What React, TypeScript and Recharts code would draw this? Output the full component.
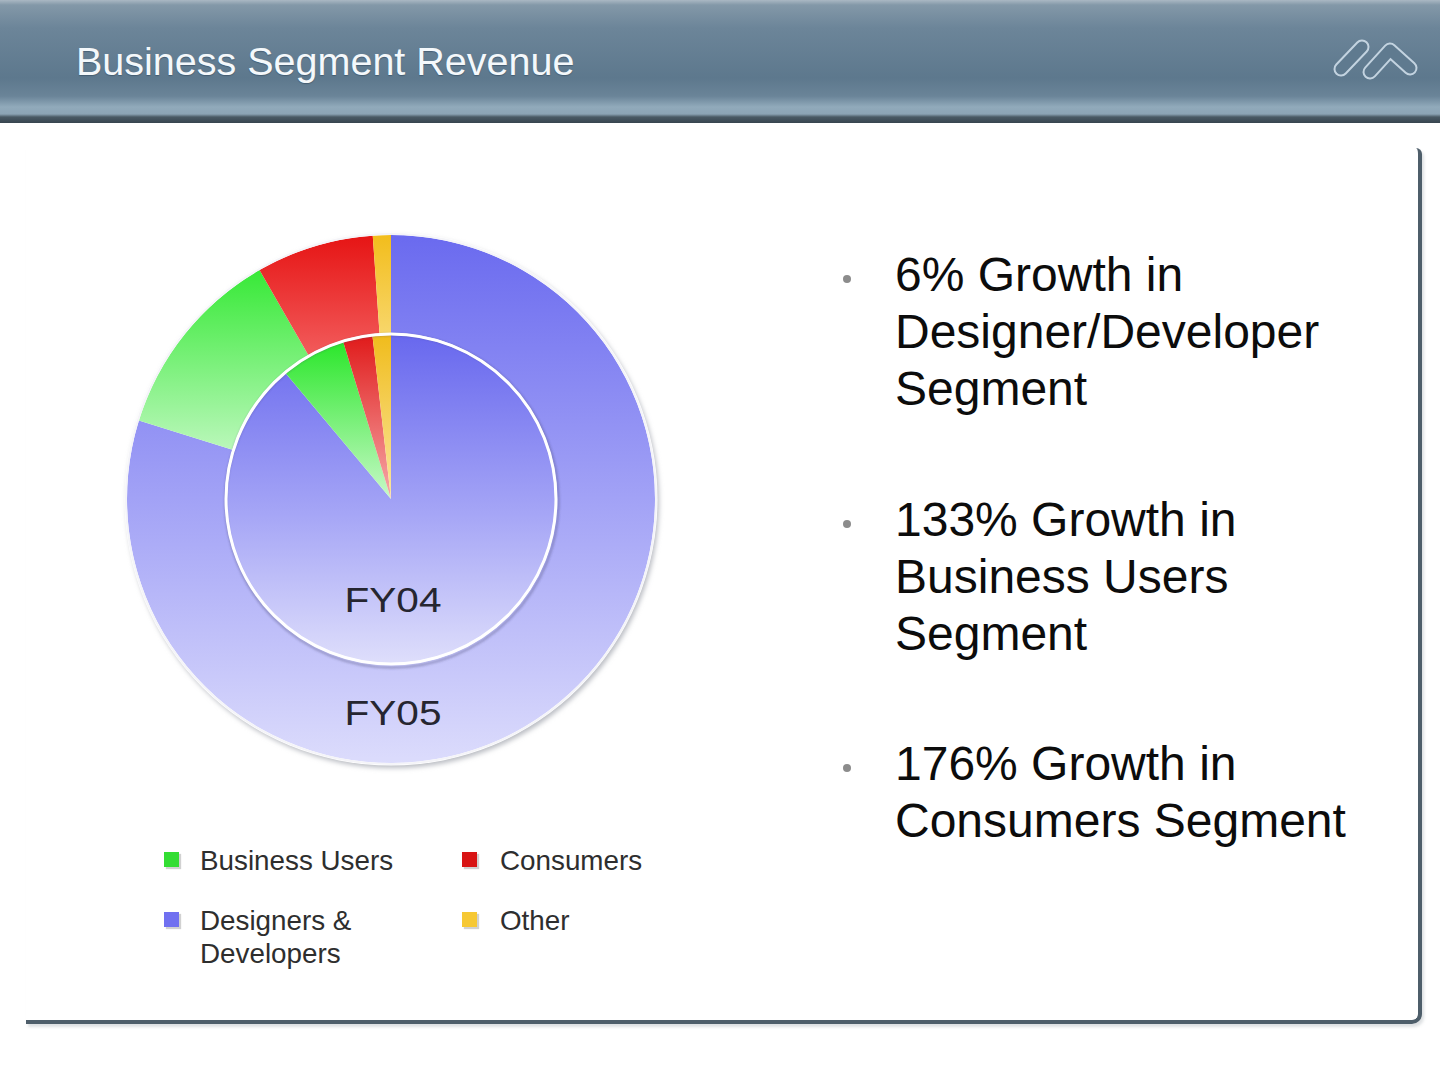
import React from 'react';
import { PieChart, Pie, Cell } from 'recharts';

const segments = ['Designers & Developers', 'Business Users', 'Consumers', 'Other'];
const fy04Share = [88.9, 6.4, 2.9, 1.8];
const fy05Share = [79.8, 11.9, 7.2, 1.1];

const legendOrder = ['Business Users', 'Consumers', 'Designers & Developers', 'Other'];

const growthNotes = [
  ['6% Growth in', 'Designer/Developer', 'Segment'],
  ['133% Growth in', 'Business Users', 'Segment'],
  ['176% Growth in', 'Consumers Segment'],
];

const ringLabels = ['FY04', 'FY05'];

const swatch: Record<string, string> = {
  'Designers & Developers': '#7070f0',
  'Business Users': '#33dd33',
  Consumers: '#d81414',
  Other: '#f6c834',
};
const gradKey: Record<string, string> = {
  'Designers & Developers': 'blue',
  'Business Users': 'green',
  Consumers: 'red',
  Other: 'yellow',
};

const FONT = '"Liberation Sans", Arial, sans-serif';
const SIZE = 600;
const C = SIZE / 2;
const INNER_R = 164;
const RING_IN = 166;
const RING_OUT = 264;

const fy04Data = segments.map((name, i) => ({ name, value: fy04Share[i] }));
const fy05Data = segments.map((name, i) => ({ name, value: fy05Share[i] }));

const outerStops: Record<string, [number, string][]> = {
  blue: [[0, '#6a6aef'], [0.5, '#a2a2f6'], [1, '#dcdcfc']],
  green: [[0, '#1ee61e'], [0.42, '#bff8bf']],
  red: [[0, '#e61414'], [0.23, '#f25c5c']],
  yellow: [[0, '#f2bd1c'], [0.2, '#f8d870']],
};
const innerStops: Record<string, [number, string][]> = {
  blue: [[0, '#6868ee'], [0.55, '#a6a6f6'], [1, '#dedefb']],
  green: [[0, '#24e624'], [0.5, '#c8f9c8']],
  red: [[0, '#e01a1a'], [0.5, '#f6aaaa']],
  yellow: [[0, '#f0bc1c'], [0.5, '#fae6a0']],
};

const Header = () => (
  <div
    style={{
      position: 'absolute',
      left: 0,
      top: 0,
      width: 1440,
      height: 123,
      background:
        'linear-gradient(to bottom, #aab8c3 0px, #8398a8 5px, #6c8599 28px, #5d788d 78px, #6a8498 96px, #91aabb 107px, #8ca4b5 114px, #4a5a65 117px, #37454f 123px)',
    }}
  >
    <div
      style={{
        position: 'absolute',
        left: 76,
        top: 37,
        fontFamily: FONT,
        fontSize: 39.5,
        lineHeight: '48px',
        color: '#f4f8fb',
        textShadow: '0 1px 1px rgba(20,40,60,0.35)',
        whiteSpace: 'nowrap',
      }}
    >
      Business Segment Revenue
    </div>
    <svg width={1440} height={123} style={{ position: 'absolute', left: 0, top: 0 }}>
      <g fill="none" strokeLinecap="round" strokeLinejoin="round">
        <path d="M1341,69 L1362,47" stroke="#c3d3e0" strokeWidth={15} />
        <path d="M1341,69 L1362,47" stroke="#5f7a8f" strokeWidth={11} />
        <path d="M1370,72 L1390,50 L1410,68" stroke="#c3d3e0" strokeWidth={15} />
        <path d="M1370,72 L1390,50 L1410,68" stroke="#5f7a8f" strokeWidth={11} />
      </g>
    </svg>
  </div>
);

const Panel = () => (
  <div
    style={{
      position: 'absolute',
      left: 26,
      top: 148,
      width: 1392,
      height: 872,
      borderRight: '4px solid #4e5e6a',
      borderBottom: '4px solid #4e5e6a',
      borderBottomRightRadius: 10,
      borderTopRightRadius: 6,
      boxShadow: '2px 3px 3px rgba(120,130,140,0.25)',
    }}
  />
);

const Legend = () => (
  <>
    {legendOrder.map((name, i) => {
      const col = i % 2;
      const row = Math.floor(i / 2);
      const left = col === 0 ? 164 : 462;
      const top = row === 0 ? 844 : 904;
      return (
        <div key={name} style={{ position: 'absolute', left, top }}>
          <div
            style={{
              position: 'absolute',
              left: 0,
              top: 8,
              width: 15,
              height: 15,
              background: swatch[name],
              boxShadow: '2px 2px 1px rgba(0,0,0,0.18)',
            }}
          />
          <div
            style={{
              position: 'absolute',
              left: col === 0 ? 36 : 38,
              top: 0,
              width: 220,
              fontFamily: FONT,
              fontSize: 27.8,
              lineHeight: '33px',
              color: '#2e2e2e',
            }}
          >
            {name}
          </div>
        </div>
      );
    })}
  </>
);

const Notes = () => {
  const tops = [246, 491, 735];
  return (
    <>
      {growthNotes.map((lines, i) => (
        <React.Fragment key={i}>
          <div
            style={{
              position: 'absolute',
              left: 843,
              top: tops[i] + 29,
              width: 8,
              height: 8,
              borderRadius: 4,
              background: '#8c8c8c',
            }}
          />
          <div
            style={{
              position: 'absolute',
              left: 895,
              top: tops[i],
              fontFamily: FONT,
              fontSize: 48,
              lineHeight: '57px',
              color: '#0c0c0c',
              whiteSpace: 'nowrap',
            }}
          >
            {lines.map((l) => (
              <div key={l}>{l}</div>
            ))}
          </div>
        </React.Fragment>
      ))}
    </>
  );
};

const gradDefs = (prefix: string, stops: Record<string, [number, string][]>, r: number) =>
  Object.keys(stops).map((k) => (
    <linearGradient
      key={prefix + k}
      id={prefix + k}
      gradientUnits="userSpaceOnUse"
      x1={0}
      y1={C - r}
      x2={0}
      y2={C + r}
    >
      {stops[k].map(([o, c]) => (
        <stop key={o} offset={o} stopColor={c} />
      ))}
    </linearGradient>
  ));

const RingChart = () => (
  <div style={{ position: 'absolute', left: 91, top: 199, width: SIZE, height: SIZE }}>
    {/* soft drop shadow and white rim behind the outer ring */}
    <svg width={SIZE} height={SIZE} style={{ position: 'absolute', left: 0, top: 0 }}>
      <defs>
        <filter id="soft" x="-10%" y="-10%" width="120%" height="120%">
          <feGaussianBlur stdDeviation={2.5} />
        </filter>
      </defs>
      <circle cx={C + 2} cy={C + 3} r={RING_OUT + 2} fill="#b9bcc2" filter="url(#soft)" />
      <circle cx={C} cy={C} r={RING_OUT + 2.5} fill="#ffffff" />
    </svg>
    <div style={{ position: 'absolute', left: 0, top: 0 }}>
      <PieChart width={SIZE} height={SIZE} margin={{ top: 0, right: 0, bottom: 0, left: 0 }}>
        <defs>
          {gradDefs('o-', outerStops, RING_OUT)}
          {gradDefs('i-', innerStops, INNER_R)}
        </defs>
        <Pie
          data={fy05Data}
          dataKey="value"
          nameKey="name"
          cx="50%"
          cy="50%"
          innerRadius={RING_IN}
          outerRadius={RING_OUT}
          startAngle={90}
          endAngle={-270}
          stroke="none"
          isAnimationActive={false}
        >
          {fy05Data.map((d) => (
            <Cell key={d.name} fill={`url(#o-${gradKey[d.name]})`} />
          ))}
        </Pie>
        <Pie
          data={fy04Data}
          dataKey="value"
          nameKey="name"
          cx="50%"
          cy="50%"
          innerRadius={0}
          outerRadius={INNER_R}
          startAngle={90}
          endAngle={-270}
          stroke="none"
          isAnimationActive={false}
        >
          {fy04Data.map((d) => (
            <Cell key={d.name} fill={`url(#i-${gradKey[d.name]})`} />
          ))}
        </Pie>
      </PieChart>
    </div>
    {/* rim of the inner pie and ring captions */}
    <svg
      width={SIZE}
      height={SIZE}
      style={{ position: 'absolute', left: 0, top: 0, pointerEvents: 'none' }}
    >
      <defs>
        <filter id="rimblur" x="-10%" y="-10%" width="120%" height="120%">
          <feGaussianBlur stdDeviation={1.2} />
        </filter>
      </defs>
      <circle
        cx={C + 1}
        cy={C + 2}
        r={INNER_R + 2.5}
        fill="none"
        stroke="rgba(70,70,110,0.35)"
        strokeWidth={2.5}
        filter="url(#rimblur)"
      />
      <circle cx={C} cy={C} r={INNER_R + 1} fill="none" stroke="#ffffff" strokeWidth={3} />
      <circle cx={C} cy={C} r={RING_OUT + 1} fill="none" stroke="#f4f4f8" strokeWidth={2} />
      {ringLabels.map((t, i) => (
        <text
          key={t}
          x={C + 2}
          y={i === 0 ? 413 : 526}
          textAnchor="middle"
          fontFamily={FONT}
          fontSize={35}
          textLength={97}
          lengthAdjust="spacingAndGlyphs"
          fill="#262630"
        >
          {t}
        </text>
      ))}
    </svg>
  </div>
);

export default function App() {
  return (
    <div
      style={{
        position: 'absolute',
        left: 0,
        top: 0,
        width: 1440,
        height: 1080,
        background: '#ffffff',
        overflow: 'hidden',
      }}
    >
      <Header />
      <Panel />
      <RingChart />
      <Legend />
      <Notes />
    </div>
  );
}
